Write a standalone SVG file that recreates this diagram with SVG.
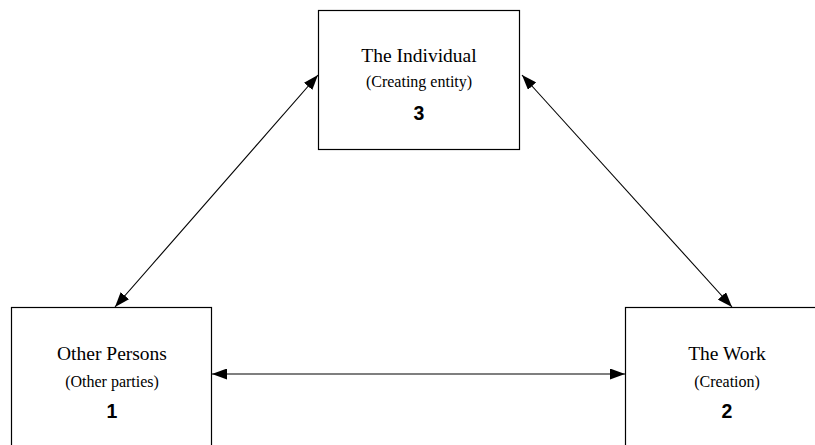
<svg xmlns="http://www.w3.org/2000/svg" width="815" height="445" viewBox="0 0 815 445">
  <style>
    .box { fill: #ffffff; stroke: #000000; stroke-width: 1.2; }
    .title { font-family: "Liberation Serif", "Times New Roman", serif; font-size: 19.5px; fill: #000; text-anchor: middle; }
    .sub { font-family: "Liberation Serif", "Times New Roman", serif; font-size: 16px; fill: #000; text-anchor: middle; }
    .num { font-family: "Liberation Sans", Arial, sans-serif; font-size: 19.5px; font-weight: bold; fill: #000; text-anchor: middle; }
    .link { stroke: #000000; stroke-width: 1.1; fill: none; marker-start: url(#head); marker-end: url(#head); }
  </style>
  <defs>
    <marker id="head" markerUnits="userSpaceOnUse" markerWidth="15" markerHeight="11" refX="15" refY="5.5" orient="auto-start-reverse">
      <path d="M0,0 L15,5.5 L0,11 z" fill="#000000"/>
    </marker>
  </defs>
  <rect width="815" height="445" fill="#ffffff"/>

  <g id="connectors">
    <line class="link" x1="115" y1="307" x2="318" y2="75"/>
    <line class="link" x1="732" y1="307" x2="522" y2="75"/>
    <line class="link" x1="212" y1="374" x2="625" y2="374"/>
  </g>

  <g id="node-individual">
    <rect class="box" x="318.5" y="10.5" width="201" height="139"/>
    <text class="title" x="419" y="62">The Individual</text>
    <text class="sub" x="419" y="87">(Creating entity)</text>
    <text class="num" x="419" y="120">3</text>
  </g>

  <g id="node-other-persons">
    <rect class="box" x="11.5" y="307.5" width="200" height="160"/>
    <text class="title" x="112" y="360">Other Persons</text>
    <text class="sub" x="112" y="387">(Other parties)</text>
    <text class="num" x="112" y="418">1</text>
  </g>

  <g id="node-work">
    <rect class="box" x="625.5" y="307.5" width="220" height="160"/>
    <text class="title" x="727" y="360">The Work</text>
    <text class="sub" x="727" y="387">(Creation)</text>
    <text class="num" x="727" y="418">2</text>
  </g>
</svg>
